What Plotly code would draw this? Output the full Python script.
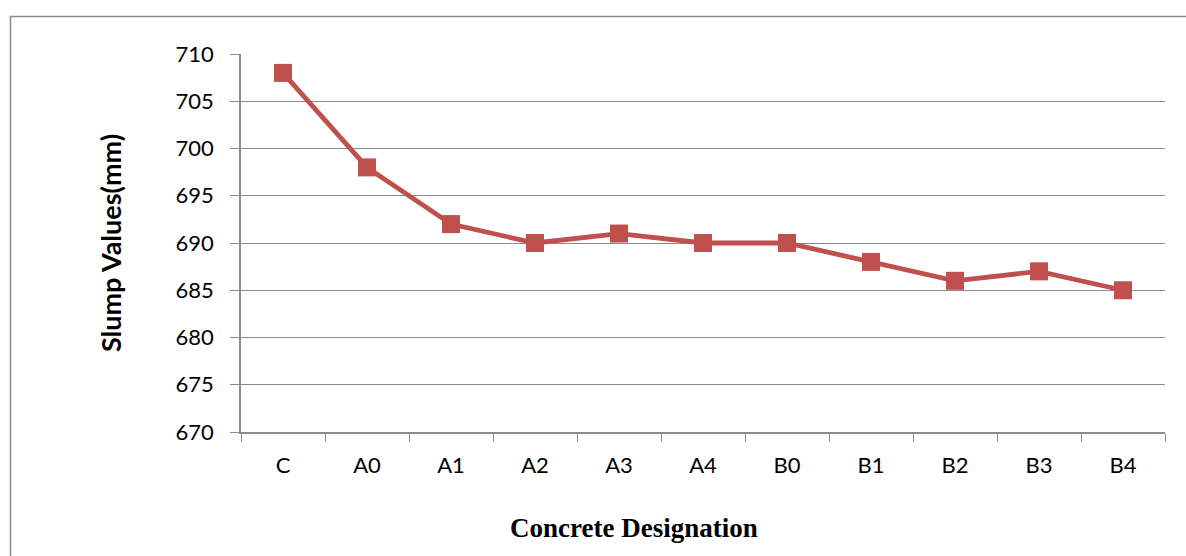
import plotly.graph_objects as go

# Slump test results per concrete mix
designations = ["C", "A0", "A1", "A2", "A3", "A4", "B0", "B1", "B2", "B3", "B4"]
slump_mm = [708, 698, 692, 690, 691, 690, 690, 688, 686, 687, 685]
y_ticks = [670, 675, 680, 685, 690, 695, 700, 705, 710]

W, H = 1186, 556
L, R, T, B = 241, 21, 54, 124
pw, ph = W - L - R, H - T - B

def px_to_paper_x(px):
    return (px - L) / pw

def px_to_paper_y(py):
    return (H - B - py) / ph

fig = go.Figure()
fig.add_trace(go.Scatter(
    x=designations, y=slump_mm, mode="lines+markers",
    line=dict(color="#C0504D", width=4.8),
    marker=dict(symbol="square", size=18, color="#C0504D"),
    showlegend=False,
))

grid = "#8c8c8c"
fig.update_layout(
    width=W, height=H,
    margin=dict(l=L, r=R, t=T, b=B),
    paper_bgcolor="white", plot_bgcolor="white",
    font=dict(family="Lato, Open Sans, sans-serif", color="black", size=22),
    xaxis=dict(
        type="category", range=[-0.5, len(designations) - 0.5],
        tickson="boundaries", ticks="outside", ticklen=8,
        tickcolor=grid, showline=True, linecolor=grid, linewidth=1.5,
        showgrid=False, tickfont=dict(size=22), ticklabelstandoff=13,
    ),
    yaxis=dict(
        range=[670, 710], tickvals=y_ticks, ticks="outside", ticklen=9,
        tickcolor=grid, showline=True, linecolor=grid, linewidth=1.5,
        showgrid=True, gridcolor=grid, gridwidth=1.2, zeroline=False,
        tickfont=dict(size=22), ticklabelstandoff=12,
        title=dict(text="<b>Slump Values(mm)</b>", font=dict(size=27), standoff=46),
    ),
    annotations=[dict(
        text="<b>Concrete Designation</b>", xref="paper", yref="paper",
        x=px_to_paper_x(634), y=px_to_paper_y(528), xanchor="center", yanchor="middle",
        showarrow=False,
        font=dict(family="Liberation Serif, Times New Roman, serif", size=27),
    )],
    shapes=[dict(
        type="rect", xref="paper", yref="paper", layer="below",
        x0=px_to_paper_x(10.5), x1=px_to_paper_x(1200),
        y0=px_to_paper_y(600), y1=px_to_paper_y(16.5),
        line=dict(color="#8c8c8c", width=1.5), fillcolor="rgba(0,0,0,0)",
    )],
)

fig.write_html("out.html")
